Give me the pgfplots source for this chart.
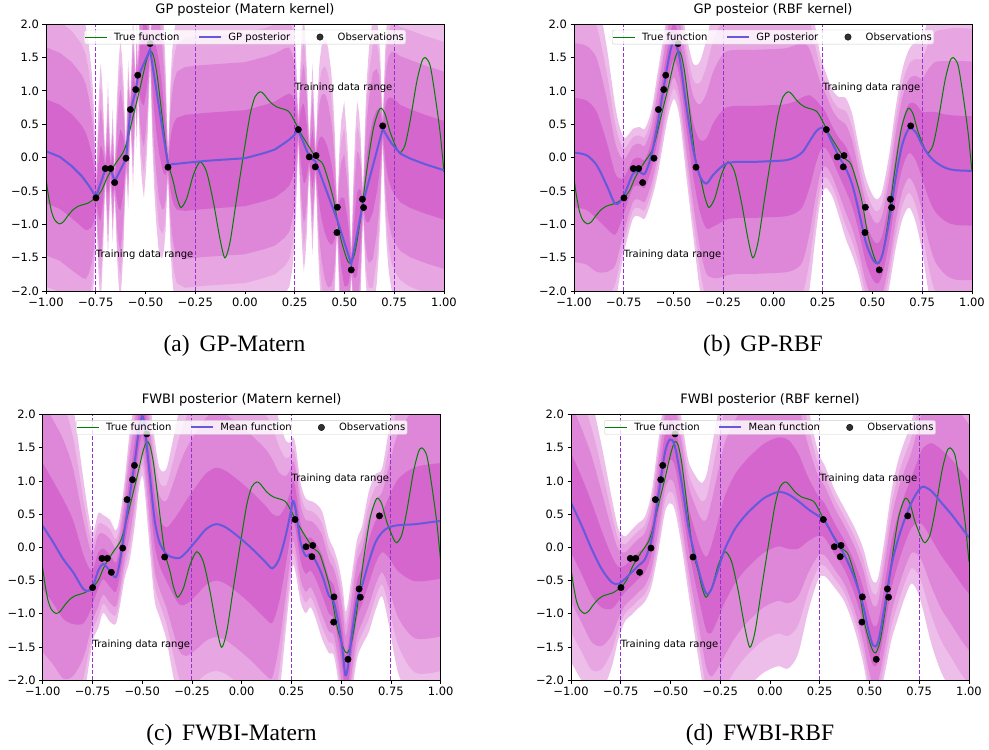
\documentclass[border=0pt]{standalone}
\usepackage{fontspec}
\setmainfont{DejaVu Sans}
\newfontfamily\capfont{Liberation Serif}
\usepackage{pgfplots}
\pgfplotsset{compat=1.18}
\usepackage{pgfplotstable}
\usepgfplotslibrary{fillbetween}

\definecolor{cD}{RGB}{237,190,234}
\definecolor{cA}{RGB}{231,165,226}
\definecolor{cB}{RGB}{222,135,216}
\definecolor{cC}{RGB}{213,102,205}
\definecolor{vl}{RGB}{150,50,210}
\definecolor{mb}{RGB}{100,90,220}
\definecolor{tg}{RGB}{0,128,0}

\pgfplotstableread{
x y
-0.749 -0.605
-0.702 -0.165
-0.675 -0.165
-0.655 -0.375
-0.598 -0.01
-0.576 0.72
-0.549 1.02
-0.539 1.235
-0.477 1.71
-0.387 -0.145
0.268 0.42
0.323 0.01
0.357 0.03
0.353 -0.14
0.464 -0.745
0.462 -1.125
0.534 -1.685
0.590 -0.625
0.596 -0.75
0.692 0.475
}\tObs

\pgfplotstableread{
x y
-1.000 -0.315
-0.988 -0.565
-0.972 -0.815
-0.955 -0.94
-0.933 -0.995
-0.913 -0.965
-0.888 -0.865
-0.863 -0.78
-0.838 -0.73
-0.812 -0.705
-0.787 -0.68
-0.762 -0.63
-0.749 -0.605
-0.720 -0.49
-0.695 -0.315
-0.675 -0.205
-0.645 -0.065
-0.611 0.085
-0.591 0.26
-0.561 0.635
-0.528 1.035
-0.497 1.435
-0.477 1.595
-0.461 1.535
-0.444 1.285
-0.427 0.885
-0.407 0.385
-0.387 -0.065
-0.360 -0.365
-0.343 -0.59
-0.322 -0.75
-0.293 -0.615
-0.260 -0.265
-0.226 -0.065
-0.193 -0.215
-0.159 -0.665
-0.126 -1.215
-0.101 -1.505
-0.075 -1.265
-0.042 -0.615
-0.008 0.035
0.025 0.635
0.050 0.91
0.075 0.985
0.092 0.96
0.126 0.835
0.159 0.76
0.218 0.695
0.251 0.535
0.276 0.385
0.327 0.135
0.360 -0.015
0.394 -0.115
0.444 -0.615
0.477 -1.165
0.511 -1.515
0.531 -1.59
0.553 -1.415
0.578 -0.965
0.611 -0.215
0.645 0.435
0.678 0.735
0.703 0.66
0.729 0.385
0.762 0.135
0.779 0.07
0.804 0.185
0.829 0.535
0.863 1.135
0.888 1.435
0.905 1.5
0.930 1.385
0.955 0.935
0.980 0.385
1.000 -0.215
}\tTrue

\pgfplotstableread{
x m s
-1.000 0.095 0.78
-0.930 0.010 0.78
-0.870 -0.130 0.78
-0.820 -0.280 0.76
-0.800 -0.360 0.73
-0.785 -0.420 0.66
-0.770 -0.490 0.55
-0.760 -0.540 0.42
-0.755 -0.565 0.30
-0.749 -0.590 0.05
-0.743 -0.538 0.20
-0.737 -0.485 0.38
-0.729 -0.416 0.52
-0.7255 -0.385 0.56
-0.722 -0.355 0.52
-0.714 -0.285 0.38
-0.708 -0.232 0.20
-0.702 -0.180 0.05
-0.696 -0.178 0.20
-0.6885 -0.175 0.41
-0.681 -0.172 0.20
-0.675 -0.170 0.05
-0.669 -0.227 0.20
-0.665 -0.265 0.32
-0.661 -0.303 0.20
-0.655 -0.360 0.05
-0.649 -0.324 0.20
-0.643 -0.288 0.38
-0.635 -0.241 0.52
-0.6265 -0.190 0.61
-0.618 -0.140 0.52
-0.610 -0.092 0.38
-0.604 -0.056 0.20
-0.598 -0.020 0.05
-0.592 0.176 0.20
-0.587 0.340 0.35
-0.582 0.504 0.20
-0.576 0.700 0.05
-0.570 0.767 0.20
-0.5625 0.850 0.41
-0.555 0.933 0.20
-0.549 1.000 0.05
-0.544 1.100 0.30
-0.539 1.200 0.05
-0.533 1.240 0.20
-0.527 1.281 0.38
-0.519 1.335 0.52
-0.508 1.410 0.63
-0.497 1.485 0.52
-0.489 1.539 0.38
-0.483 1.579 0.20
-0.477 1.620 0.05
-0.471 1.505 0.20
-0.465 1.390 0.38
-0.457 1.236 0.52
-0.447 1.044 0.62
-0.432 0.755 0.69
-0.417 0.467 0.62
-0.407 0.274 0.52
-0.399 0.120 0.38
-0.393 0.005 0.20
-0.387 -0.110 0.05
-0.381 -0.108 0.20
-0.375 -0.106 0.38
-0.367 -0.100 0.52
-0.357 -0.097 0.62
-0.342 -0.093 0.69
-0.300 -0.080 0.72
-0.200 -0.050 0.72
-0.100 -0.030 0.72
0.000 -0.010 0.72
0.100 0.070 0.72
0.150 0.120 0.72
0.200 0.220 0.71
0.223 0.270 0.69
0.238 0.310 0.62
0.248 0.340 0.52
0.256 0.370 0.38
0.262 0.390 0.20
0.268 0.410 0.05
0.274 0.366 0.20
0.280 0.323 0.38
0.288 0.265 0.52
0.2955 0.210 0.60
0.303 0.155 0.52
0.311 0.097 0.38
0.317 0.054 0.20
0.323 0.010 0.05
0.329 -0.003 0.20
0.339 -0.025 0.45
0.349 -0.047 0.20
0.355 -0.060 0.05
0.361 -0.108 0.20
0.367 -0.157 0.38
0.375 -0.221 0.52
0.385 -0.302 0.62
0.400 -0.423 0.69
0.409 -0.495 0.70
0.418 -0.568 0.69
0.433 -0.688 0.62
0.443 -0.769 0.52
0.451 -0.833 0.38
0.457 -0.882 0.20
0.463 -0.930 0.05
0.469 -0.987 0.20
0.475 -1.043 0.38
0.483 -1.119 0.52
0.4985 -1.265 0.66
0.514 -1.411 0.52
0.522 -1.487 0.38
0.528 -1.543 0.20
0.534 -1.600 0.05
0.540 -1.506 0.20
0.546 -1.413 0.38
0.554 -1.288 0.52
0.5635 -1.140 0.62
0.573 -0.992 0.52
0.581 -0.867 0.38
0.587 -0.774 0.20
0.593 -0.680 0.05
0.599 -0.613 0.20
0.605 -0.546 0.38
0.613 -0.456 0.52
0.623 -0.344 0.62
0.6425 -0.126 0.70
0.662 0.094 0.62
0.672 0.206 0.52
0.680 0.296 0.38
0.686 0.363 0.20
0.692 0.430 0.05
0.698 0.400 0.20
0.704 0.370 0.38
0.712 0.330 0.52
0.722 0.280 0.62
0.737 0.210 0.69
0.760 0.130 0.72
0.780 0.060 0.73
0.830 -0.015 0.74
0.910 -0.105 0.74
1.000 -0.190 0.74
}\tA

\pgfplotstableread{
x m s
-1.000 0.075 0.82
-0.937 0.035 0.82
-0.886 -0.115 0.80
-0.836 -0.415 0.65
-0.795 -0.69 0.47
-0.770 -0.665 0.35
-0.745 -0.54 0.26
-0.703 -0.24 0.21
-0.669 -0.215 0.21
-0.644 -0.24 0.21
-0.611 0.035 0.21
-0.578 0.535 0.24
-0.536 1.285 0.25
-0.511 1.66 0.27
-0.494 1.735 0.27
-0.469 1.485 0.28
-0.436 0.785 0.33
-0.402 0.135 0.40
-0.369 -0.265 0.53
-0.336 -0.39 0.67
-0.302 -0.265 0.77
-0.269 -0.165 0.82
-0.235 -0.09 0.84
-0.185 -0.065 0.84
-0.102 -0.065 0.84
-0.018 -0.055 0.84
0.065 -0.04 0.84
0.115 0.01 0.84
0.149 0.085 0.82
0.182 0.235 0.70
0.215 0.385 0.48
0.240 0.445 0.33
0.265 0.41 0.27
0.299 0.21 0.25
0.332 0.01 0.28
0.366 -0.165 0.33
0.399 -0.415 0.33
0.432 -0.815 0.30
0.466 -1.265 0.30
0.499 -1.515 0.30
0.524 -1.59 0.30
0.549 -1.465 0.30
0.583 -0.965 0.31
0.616 -0.315 0.33
0.649 0.185 0.35
0.683 0.435 0.37
0.716 0.385 0.42
0.750 0.185 0.50
0.783 0.035 0.65
0.816 -0.065 0.75
0.866 -0.155 0.80
0.917 -0.19 0.82
1.000 -0.20 0.82
}\tB

\pgfplotstableread{
x m s
-1.000 0.325 0.95
-0.947 0.075 0.92
-0.897 -0.175 0.90
-0.847 -0.375 0.78
-0.796 -0.625 0.52
-0.763 -0.65 0.32
-0.746 -0.575 0.25
-0.721 -0.35 0.27
-0.696 -0.25 0.23
-0.663 -0.35 0.24
-0.633 -0.45 0.22
-0.613 -0.225 0.21
-0.588 0.275 0.23
-0.563 0.775 0.30
-0.538 1.275 0.30
-0.516 1.775 0.28
-0.500 1.975 0.28
-0.488 1.825 0.30
-0.463 1.125 0.35
-0.438 0.425 0.38
-0.413 0.075 0.35
-0.379 -0.10 0.40
-0.346 -0.15 0.55
-0.313 -0.16 0.70
-0.279 -0.075 0.78
-0.229 0.10 0.82
-0.179 0.275 0.84
-0.129 0.35 0.85
-0.079 0.30 0.85
-0.012 0.15 0.85
0.054 -0.025 0.85
0.121 -0.225 0.85
0.154 -0.315 0.82
0.188 -0.175 0.65
0.221 0.175 0.45
0.246 0.525 0.33
0.258 0.70 0.30
0.271 0.575 0.30
0.296 0.075 0.28
0.321 -0.125 0.27
0.346 -0.10 0.25
0.371 -0.20 0.27
0.405 -0.425 0.30
0.438 -0.725 0.27
0.463 -0.825 0.25
0.488 -1.175 0.28
0.508 -1.575 0.30
0.521 -1.925 0.30
0.535 -1.775 0.30
0.555 -1.275 0.28
0.580 -0.775 0.28
0.605 -0.575 0.28
0.638 -0.225 0.33
0.672 0.075 0.32
0.705 0.225 0.30
0.738 0.30 0.45
0.788 0.335 0.70
0.872 0.35 0.86
1.000 0.40 0.87
}\tC

\pgfplotstableread{
x m s
-1.000 0.675 0.75
-0.946 0.325 0.73
-0.896 -0.025 0.70
-0.846 -0.325 0.58
-0.796 -0.525 0.40
-0.762 -0.55 0.26
-0.729 -0.475 0.20
-0.695 -0.375 0.20
-0.662 -0.275 0.20
-0.628 -0.175 0.20
-0.595 0.125 0.22
-0.561 0.775 0.26
-0.528 1.425 0.28
-0.503 1.625 0.30
-0.478 1.525 0.30
-0.444 0.975 0.30
-0.411 0.325 0.31
-0.377 -0.125 0.38
-0.344 -0.50 0.46
-0.319 -0.70 0.56
-0.294 -0.625 0.66
-0.260 -0.325 0.74
-0.227 -0.025 0.80
-0.177 0.275 0.82
-0.126 0.475 0.82
-0.076 0.625 0.82
-0.026 0.75 0.82
0.041 0.835 0.82
0.091 0.80 0.82
0.141 0.70 0.72
0.192 0.575 0.48
0.242 0.475 0.30
0.275 0.40 0.26
0.326 0.125 0.23
0.376 -0.125 0.22
0.426 -0.475 0.24
0.468 -0.875 0.27
0.493 -1.225 0.29
0.518 -1.475 0.30
0.543 -1.425 0.30
0.577 -0.875 0.32
0.610 -0.275 0.35
0.644 0.125 0.37
0.677 0.425 0.37
0.711 0.675 0.38
0.744 0.85 0.48
0.769 0.915 0.58
0.811 0.85 0.72
0.861 0.675 0.80
0.911 0.50 0.83
0.962 0.30 0.85
1.000 0.15 0.85
}\tD

\pgfplotsset{
  panel/.style={
    scale only axis, width=398pt, height=266.7pt, anchor=south west,
    xmin=-1, xmax=1, ymin=-2, ymax=2,
    xtick={-1,-0.75,-0.5,-0.25,0,0.25,0.5,0.75,1},
    xticklabels={−1.00,−0.75,−0.50,−0.25,0.00,0.25,0.50,0.75,1.00},
    ytick={-2,-1.5,-1,-0.5,0,0.5,1,1.5,2},
    yticklabels={−2.0,−1.5,−1.0,−0.5,0.0,0.5,1.0,1.5,2.0},
    tick pos=left, tick align=outside, major tick length=3.5pt,
    tick style={black, line width=0.8pt},
    axis line style={line width=0.8pt},
    ticklabel style={font=\fontsize{11.5}{13}\selectfont},
    title style={at={(0.5,1)}, anchor=base, yshift=5pt, font=\fontsize{13}{15}\selectfont},
    axis on top,
    legend columns=3,
    legend cell align=left,
    legend style={at={(0.5,0.979)}, anchor=north, draw={rgb,255:red,204;green,204;blue,204},
      rounded corners=2pt, fill=white, fill opacity=0.8, draw opacity=1, text opacity=1,
      font=\fontsize{10}{12}\selectfont, inner xsep=0.5pt, inner ysep=1pt,
      nodes={inner sep=1.5pt, font=\fontsize{10}{12}\selectfont},
      /tikz/every odd column/.append style={column sep=5pt},
      /tikz/every even column/.append style={column sep=17pt}},
  },
  lineleg/.style={legend image code/.code={\draw[##1] (0pt,0pt) -- (22pt,0pt);}},
  markleg/.style={legend image code/.code={\path (0pt,0pt) (22pt,0pt);
      \draw[mark repeat=2,mark phase=2,##1] plot coordinates {(0pt,0pt) (11pt,0pt) (22pt,0pt)};}},
}

\newcommand{\bands}[3]{%
  \addplot[draw=none, forget plot, #3, name path=u4#2] table[x=x, y expr=\thisrow{m}+3.2*\thisrow{s}] {#1};
  \addplot[draw=none, forget plot, #3, name path=l4#2] table[x=x, y expr=\thisrow{m}-3.2*\thisrow{s}] {#1};
  \addplot[fill=cD, draw=none, forget plot] fill between[of=u4#2 and l4#2];
  \addplot[draw=none, forget plot, #3, name path=u3#2] table[x=x, y expr=\thisrow{m}+2.6*\thisrow{s}] {#1};
  \addplot[draw=none, forget plot, #3, name path=l3#2] table[x=x, y expr=\thisrow{m}-2.6*\thisrow{s}] {#1};
  \addplot[fill=cA, draw=none, forget plot] fill between[of=u3#2 and l3#2];
  \addplot[draw=none, forget plot, #3, name path=u2#2] table[x=x, y expr=\thisrow{m}+2*\thisrow{s}] {#1};
  \addplot[draw=none, forget plot, #3, name path=l2#2] table[x=x, y expr=\thisrow{m}-2*\thisrow{s}] {#1};
  \addplot[fill=cB, draw=none, forget plot] fill between[of=u2#2 and l2#2];
  \addplot[draw=none, forget plot, #3, name path=u1#2] table[x=x, y expr=\thisrow{m}+\thisrow{s}] {#1};
  \addplot[draw=none, forget plot, #3, name path=l1#2] table[x=x, y expr=\thisrow{m}-\thisrow{s}] {#1};
  \addplot[fill=cC, draw=none, forget plot] fill between[of=u1#2 and l1#2];
}
\newcommand{\vlinesandtext}{%
  \addplot[vl, line width=1pt, dash pattern=on 4pt off 2pt, forget plot] coordinates {(-0.75,-2) (-0.75,2)};
  \addplot[vl, line width=1pt, dash pattern=on 4pt off 2pt, forget plot] coordinates {(-0.25,-2) (-0.25,2)};
  \addplot[vl, line width=1pt, dash pattern=on 4pt off 2pt, forget plot] coordinates {(0.25,-2) (0.25,2)};
  \addplot[vl, line width=1pt, dash pattern=on 4pt off 2pt, forget plot] coordinates {(0.75,-2) (0.75,2)};
  \node[anchor=base west, inner sep=0pt, font=\fontsize{10}{12}\selectfont] at (axis cs:-0.75,-1.5) {Training data range};
  \node[anchor=base west, inner sep=0pt, font=\fontsize{10}{12}\selectfont] at (axis cs:0.25,1.0) {Training data range};
}
\newcommand{\curves}[3]{%
  \addplot[tg, line width=1pt, smooth, tension=0.45, lineleg] table {\tTrue};
  \addlegendentry{True function}
  \addplot[mb, line width=2pt, #3, lineleg] table[x=x, y=m] {#1};
  \addlegendentry{#2}
  \addplot[only marks, mark=*, mark size=3.2pt, black, markleg] table {\tObs};
  \addlegendentry{Observations}
}

\begin{document}
\begin{tikzpicture}
\path (0pt,0pt) (989pt,746pt);

\begin{axis}[panel, at={(46pt,457pt)}, title={GP posteior (Matern kernel)}]
  \bands{\tA}{a}{sharp plot}
  \vlinesandtext
  \curves{\tA}{GP posterior}{sharp plot}
\end{axis}

\begin{axis}[panel, at={(574pt,457pt)}, title={GP posteior (RBF kernel)}]
  \bands{\tB}{b}{smooth}
  \vlinesandtext
  \curves{\tB}{GP posterior}{smooth}
\end{axis}

\begin{axis}[panel, at={(42.7pt,67.7pt)}, height=265.6pt, title={FWBI posterior (Matern kernel)}]
  \bands{\tC}{c}{smooth}
  \vlinesandtext
  \curves{\tC}{Mean function}{smooth}
\end{axis}

\begin{axis}[panel, at={(571pt,67.7pt)}, height=265.6pt, title={FWBI posterior (RBF kernel)}]
  \bands{\tD}{d}{smooth}
  \vlinesandtext
  \curves{\tD}{Mean function}{smooth}
\end{axis}

\node[anchor=base, font=\capfont\fontsize{23.5}{26}\selectfont] at (234.5pt,396pt) {(a)\hspace{0.42em}GP-Matern};
\node[anchor=base, font=\capfont\fontsize{23.5}{26}\selectfont] at (763pt,396pt) {(b)\hspace{0.42em}GP-RBF};
\node[anchor=base, font=\capfont\fontsize{23.5}{26}\selectfont] at (231.5pt,7pt) {(c)\hspace{0.42em}FWBI-Matern};
\node[anchor=base, font=\capfont\fontsize{23.5}{26}\selectfont] at (760pt,7pt) {(d)\hspace{0.42em}FWBI-RBF};
\end{tikzpicture}
\end{document}
